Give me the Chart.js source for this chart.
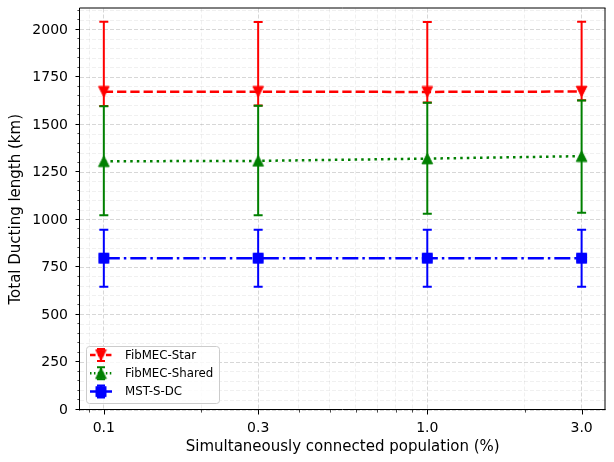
<!DOCTYPE html>
<html>
<head>
<meta charset="utf-8">
<script src="https://cdn.jsdelivr.net/npm/chart.js@4.4.0/dist/chart.umd.min.js"></script>
<style>
  html, body { margin: 0; padding: 0; background: #fff; overflow: hidden; }
</style>
</head>
<body>
<canvas id="chart" width="614" height="462"></canvas>
<script>
// data
const populations = [0.1, 0.3, 1.0, 3.0];
const xTickLabels = ["0.1", "0.3", "1.0", "3.0"];
const xMinorTicks = [0.09, 0.2, 0.4, 0.5, 0.6, 0.7, 0.8, 0.9, 2];
const yTicks = [0, 250, 500, 750, 1000, 1250, 1500, 1750, 2000];
const yMinorStep = 50;
const seriesLabels = ["FibMEC-Star", "FibMEC-Shared", "MST-S-DC"];

const starMean = [1675, 1675, 1674, 1676];
const starLow = [1600, 1602, 1618, 1630];
const starHigh = [2043, 2042, 2042, 2043];

const sharedMean = [1309, 1311, 1323, 1336];
const sharedLow = [1025, 1025, 1033, 1038];
const sharedHigh = [1598, 1601, 1617, 1629];

const mstMean = [799, 799, 799, 799];
const mstLow = [649, 649, 649, 649];
const mstHigh = [948, 948, 948, 948];

const FONT = "DejaVu Sans";

// matplotlib-like markers as small canvases
function makeMarker(shape, color) {
    const c = document.createElement("canvas");
    c.width = 13; c.height = 13;
    const g = c.getContext("2d");
    const m = 6.5, h = 5.3;
    g.fillStyle = color; g.strokeStyle = color; g.lineWidth = 1;
    g.beginPath();
    if (shape === "down") {
        g.moveTo(m - h, m - h); g.lineTo(m + h, m - h); g.lineTo(m, m + h);
    } else if (shape === "up") {
        g.moveTo(m, m - h); g.lineTo(m + h, m + h); g.lineTo(m - h, m + h);
    } else {
        g.rect(m - h + 0.3, m - h + 0.3, 2 * h - 0.6, 2 * h - 0.6);
    }
    g.closePath(); g.fill(); g.stroke();
    return c;
}

const series = [
    { label: seriesLabels[0], mean: starMean, low: starLow, high: starHigh, color: "#ff0000", dash: [9.25, 4], shape: "down" },
    { label: seriesLabels[1], mean: sharedMean, low: sharedLow, high: sharedHigh, color: "#008000", dash: [2.5, 4.1], shape: "up" },
    { label: seriesLabels[2], mean: mstMean, low: mstLow, high: mstHigh, color: "#0000ff", dash: [16, 4, 2.5, 4], shape: "square" },
];
series.forEach(s => { s.marker = makeMarker(s.shape, s.color); });

const yAllTicks = [];
for (let v = 0; v <= 2100; v += yMinorStep) yAllTicks.push(v);
const xAllTicks = xMinorTicks.concat(populations).sort((a, b) => a - b);

const errorBars = {
    id: "errorBars",
    beforeDatasetsDraw(chart) {
        const { ctx, chartArea: a, scales: { x, y } } = chart;
        ctx.save();
        ctx.beginPath();
        ctx.rect(a.left, a.top, a.right - a.left, a.bottom - a.top);
        ctx.clip();
        series.forEach(s => {
            ctx.strokeStyle = s.color;
            ctx.lineWidth = 2;
            ctx.setLineDash([]);
            populations.forEach((p, i) => {
                const px = x.getPixelForValue(p);
                const top = y.getPixelForValue(s.high[i]);
                const bot = y.getPixelForValue(s.low[i]);
                ctx.beginPath();
                ctx.moveTo(px, top); ctx.lineTo(px, bot);
                ctx.moveTo(px - 4.5, top); ctx.lineTo(px + 4.5, top);
                ctx.moveTo(px - 4.5, bot); ctx.lineTo(px + 4.5, bot);
                ctx.stroke();
            });
        });
        ctx.restore();
    }
};

const frame = {
    id: "frame",
    afterDraw(chart) {
        const { ctx, chartArea: a, scales: { x, y } } = chart;
        ctx.save();
        ctx.strokeStyle = "#000";
        ctx.setLineDash([]);
        // spines
        ctx.lineWidth = 1;
        ctx.beginPath();
        ctx.moveTo(a.left - 0.5, a.top - 0.5); ctx.lineTo(a.right, a.top - 0.5);
        ctx.moveTo(a.left - 0.5, a.top - 0.5); ctx.lineTo(a.left - 0.5, a.bottom + 0.5);
        ctx.moveTo(a.left - 0.5, a.bottom - 0.5); ctx.lineTo(a.right, a.bottom - 0.5);
        ctx.moveTo(a.right - 0.5, a.top - 0.5); ctx.lineTo(a.right - 0.5, a.bottom);
        ctx.stroke();
        // tick marks
        xAllTicks.forEach(v => {
            const major = populations.includes(v);
            const px = Math.round(x.getPixelForValue(v)) + 0.5;
            ctx.lineWidth = major ? 1 : 0.7;
            ctx.beginPath();
            ctx.moveTo(px, a.bottom); ctx.lineTo(px, a.bottom + (major ? 4.5 : 2.6));
            ctx.stroke();
        });
        yAllTicks.forEach(v => {
            const major = yTicks.includes(v);
            const py = Math.round(y.getPixelForValue(v)) - 0.5;
            ctx.lineWidth = major ? 1 : 0.7;
            ctx.beginPath();
            ctx.moveTo(a.left, py); ctx.lineTo(a.left - (major ? 4.5 : 2.6), py);
            ctx.stroke();
        });
        // legend
        const bx = 86.5, by = 346.5, bw = 133, bh = 57;
        ctx.fillStyle = "rgba(255,255,255,0.8)";
        ctx.strokeStyle = "#cccccc";
        ctx.lineWidth = 1;
        ctx.beginPath();
        ctx.roundRect(bx, by, bw, bh, 3);
        ctx.fill(); ctx.stroke();
        ctx.font = "11.8px '" + FONT + "'";
        ctx.textBaseline = "middle";
        ctx.textAlign = "left";
        series.forEach((s, i) => {
            const cy = 355 + i * 18.3;
            ctx.strokeStyle = s.color;
            ctx.lineWidth = 2.5;
            ctx.setLineDash(s.dash.map(d => d * 0.6));
            ctx.beginPath();
            ctx.moveTo(90, cy); ctx.lineTo(112, cy);
            ctx.stroke();
            ctx.setLineDash([]);
            ctx.lineWidth = 2;
            ctx.beginPath();
            ctx.moveTo(101, cy - 6); ctx.lineTo(101, cy + 6);
            ctx.moveTo(97, cy - 6); ctx.lineTo(105, cy - 6);
            ctx.moveTo(97, cy + 6); ctx.lineTo(105, cy + 6);
            ctx.stroke();
            ctx.drawImage(s.marker, 101 - 6.5, cy - 6.5);
            ctx.fillStyle = "#000";
            ctx.fillText(s.label, 125, cy + 0.5);
        });
        ctx.restore();
    }
};

function noPad(scale) {
    scale.paddingLeft = 0; scale.paddingRight = 0;
    scale.paddingTop = 0; scale.paddingBottom = 0;
}

new Chart(document.getElementById("chart"), {
    type: "line",
    data: {
        datasets: series.map((s, i) => ({
            label: s.label,
            data: populations.map((p, j) => ({ x: p, y: s.mean[j] })),
            borderColor: s.color,
            backgroundColor: s.color,
            borderWidth: 2.5,
            borderDash: s.dash,
            pointStyle: s.marker,
            pointRadius: 6,
            fill: false,
            tension: 0,
            order: 3 - i,
        })),
    },
    options: {
        responsive: false,
        animation: false,
        devicePixelRatio: 1,
        // negative right padding: the plot box runs a few px past the canvas edge
        layout: { padding: { left: 0, top: 7, right: -13, bottom: 0 } },
        plugins: {
            legend: { display: false },
            tooltip: { enabled: false },
        },
        scales: {
            x: {
                type: "logarithmic",
                min: 0.0844,
                max: 3.556,
                bounds: "data",
                afterBuildTicks: (scale) => { scale.ticks = xAllTicks.map(v => ({ value: v })); },
                afterFit: (scale) => { scale.height = 52; noPad(scale); },
                ticks: {
                    autoSkip: false,
                    maxRotation: 0,
                    padding: 10,
                    color: "#000",
                    font: { family: FONT, size: 14, lineHeight: 1.2 },
                    callback: (v) => {
                        const i = populations.indexOf(v);
                        return i >= 0 ? xTickLabels[i] : "";
                    },
                },
                grid: {
                    drawTicks: false,
                    color: (c) => c.tick && populations.includes(c.tick.value) ? "rgba(0,0,0,0.2)" : "rgba(0,0,0,0.08)",
                    lineWidth: 0.8,
                },
                border: { display: false, dash: [4, 2] },
                title: {
                    display: true,
                    text: "Simultaneously connected population (%)",
                    color: "#000",
                    font: { family: FONT, size: 15, lineHeight: 1.2 },
                    padding: { top: 0, bottom: 5.5 },
                },
            },
            y: {
                min: 0,
                max: 2113,
                afterBuildTicks: (scale) => { scale.ticks = yAllTicks.map(v => ({ value: v })); },
                afterFit: (scale) => { scale.width = 80; noPad(scale); },
                ticks: {
                    autoSkip: false,
                    padding: 12,
                    color: "#000",
                    font: { family: FONT, size: 14, lineHeight: 1.2 },
                    callback: (v) => yTicks.includes(v) ? String(v) : "",
                },
                grid: {
                    drawTicks: false,
                    color: (c) => c.tick && yTicks.includes(c.tick.value) ? "rgba(0,0,0,0.2)" : "rgba(0,0,0,0.08)",
                    lineWidth: 0.8,
                },
                border: { display: false, dash: [4, 2] },
                title: {
                    display: true,
                    text: "Total Ducting length (km)",
                    color: "#000",
                    font: { family: FONT, size: 15, lineHeight: 1.2 },
                    padding: { top: 6.8, bottom: 0 },
                },
            },
        },
    },
    plugins: [errorBars, frame],
});
</script>
</body>
</html>
